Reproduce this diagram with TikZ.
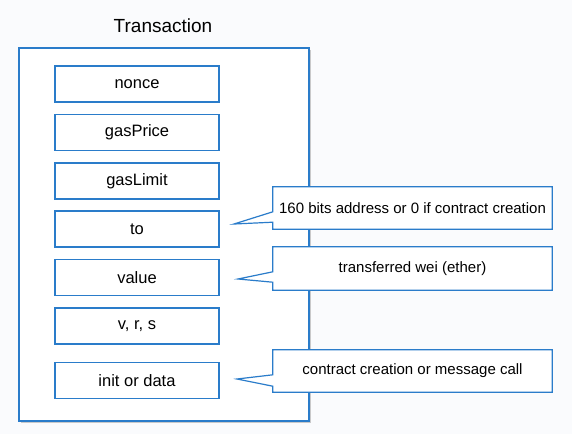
\documentclass[tikz,border=0pt]{standalone}
\usepackage{fontspec}
\setmainfont{Liberation Sans}
\usetikzlibrary{calc,shadows}
\definecolor{bline}{RGB}{42,124,202}
\definecolor{bgc}{RGB}{250,251,253}
\begin{document}
\begin{tikzpicture}[x=1pt,y=-1pt,
  field/.style={draw=bline,line width=1.4pt,fill=white,minimum width=164pt,minimum height=36pt,inner sep=0pt,font=\fontsize{16.5}{19}\selectfont},
  calltext/.style={fill=white,minimum width=279pt,minimum height=42pt,inner sep=0pt,font=\fontsize{15}{18}\selectfont},
  callline/.style={draw=bline,line width=1.2pt},
  outer/.style={draw=bline,line width=1.6pt,fill=white,minimum width=290pt,minimum height=373pt,inner sep=0pt,
    drop shadow={shadow xshift=2pt,shadow yshift=-2pt,fill=black!40}}
]
\fill[bgc] (0,0) rectangle (572,434);
\node[font=\fontsize{19}{22}\selectfont] (title) at (163,26) {Transaction};
\node[outer] (tx) at (164,234.5) {};
\node[field] (nonce) at (137,84) {nonce};
\node[field] (gasprice) at (137,132.5) {gasPrice};
\node[field] (gaslimit) at (137,181) {gasLimit};
\node[field] (to) at (137,229) {to};
\node[field] (value) at (137,277.5) {value};
\node[field] (vrs) at (137,326) {v, r, s};
\node[field] (init) at (137,380.5) {init or data};
% callout 1
\node[calltext] (c1) at (412.5,208) {160 bits address or 0 if contract creation};
\coordinate (t1) at (234,224);
\fill[white] ($(c1.south west)+(0,-7)$) -- (t1) -- ($(c1.north west)+(0,25)$) -- cycle;
\draw[callline] (c1.north west) -- (c1.north east) -- (c1.south east) -- (c1.south west) -- ($(c1.south west)+(0,-7)$) -- (t1) -- ($(c1.north west)+(0,25)$) -- cycle;
% callout 2
\node[calltext,minimum height=43pt] (c2) at (412.5,268.5) {transferred wei (ether)};
\coordinate (t2) at (238,279);
\fill[white] ($(c2.south west)+(0,-8)$) -- (t2) -- ($(c2.north west)+(0,25)$) -- cycle;
\draw[callline] (c2.north west) -- (c2.north east) -- (c2.south east) -- (c2.south west) -- ($(c2.south west)+(0,-8)$) -- (t2) -- ($(c2.north west)+(0,25)$) -- cycle;
% callout 3
\node[calltext] (c3) at (412.5,371) {contract creation or message call};
\coordinate (t3) at (237,379);
\fill[white] ($(c3.south west)+(0,-6)$) -- (t3) -- ($(c3.north west)+(0,25)$) -- cycle;
\draw[callline] (c3.north west) -- (c3.north east) -- (c3.south east) -- (c3.south west) -- ($(c3.south west)+(0,-6)$) -- (t3) -- ($(c3.north west)+(0,25)$) -- cycle;
\end{tikzpicture}
\end{document}
